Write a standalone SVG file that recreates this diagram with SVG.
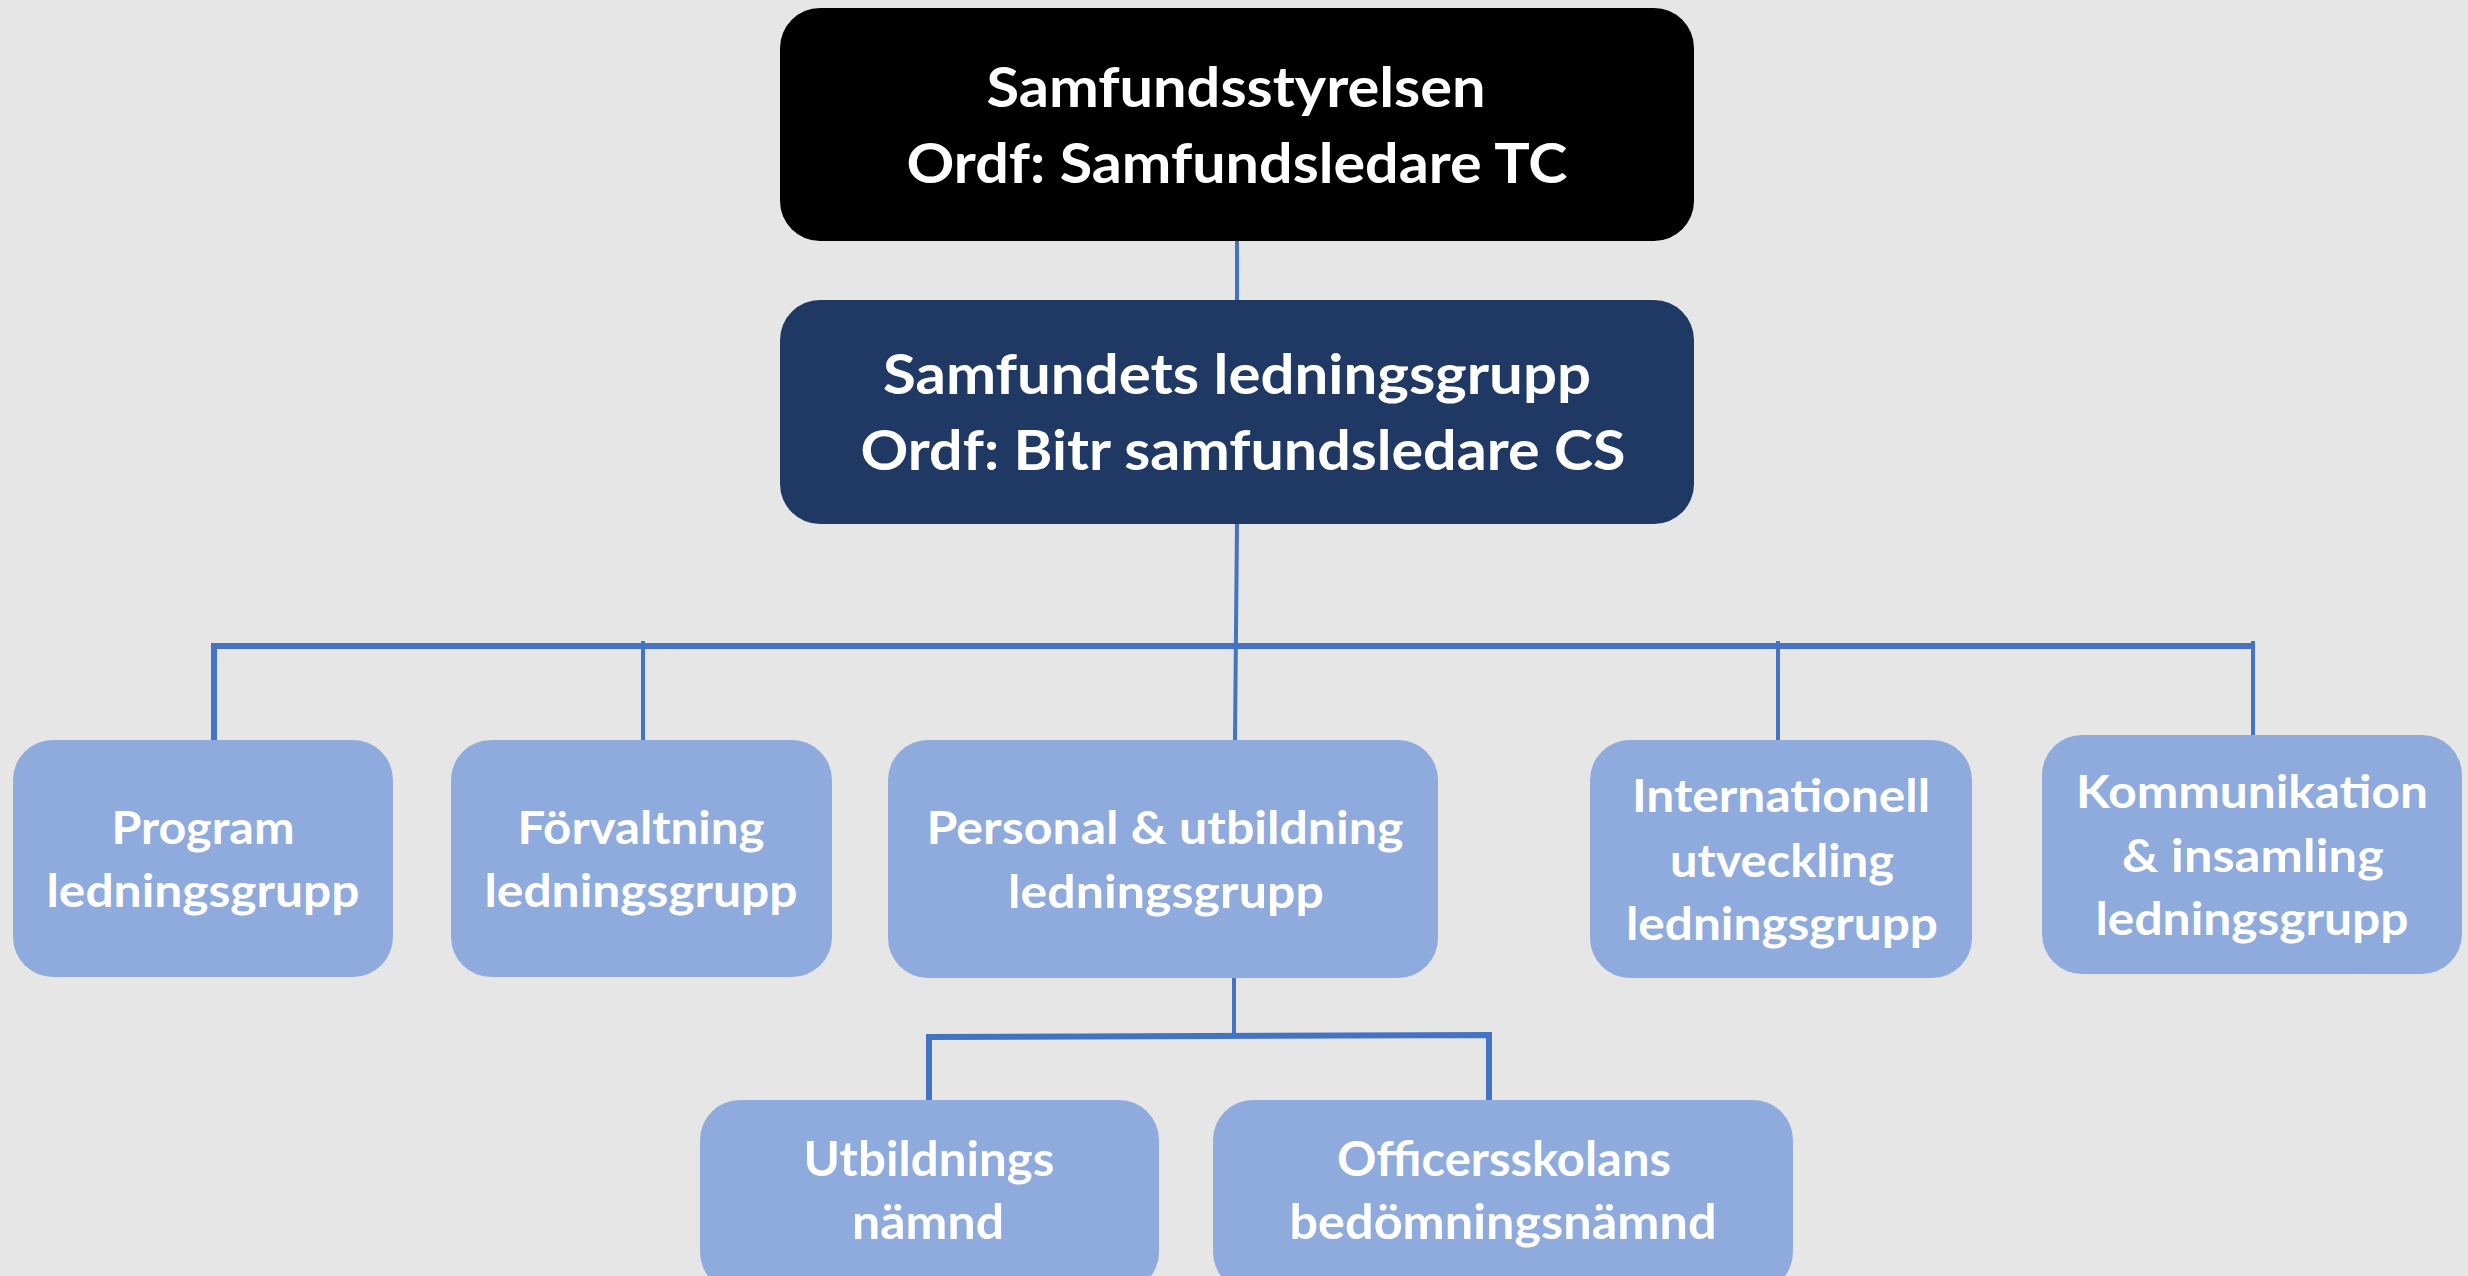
<svg xmlns="http://www.w3.org/2000/svg" width="2468" height="1276" viewBox="0 0 2468 1276">
<style>
.bg{fill:#E7E6E6}
.top{fill:#000000}
.mid{fill:#203864}
.box{fill:#8FAADC}
.conn{stroke:#4472C4;stroke-width:4;fill:none}
.bar{stroke:#4472C4;stroke-width:6;fill:none}
text{font-family:Lato,"Open Sans","Liberation Sans",sans-serif;font-weight:bold;fill:#FFFFFF;text-anchor:middle}
.t1{font-size:56px}
.t2{font-size:46px}
.t3{font-size:47px}
</style>
<rect class="bg" x="0" y="0" width="2468" height="1276"/>
<g id="connectors">
<line class="conn" x1="1237" y1="241" x2="1237" y2="300"/>
<line class="conn" x1="1237" y1="523" x2="1235" y2="740"/>
<polyline class="bar" points="214,740 214,646 2252,646"/>
<line class="conn" x1="643" y1="641" x2="643" y2="740"/>
<line class="conn" x1="1778" y1="641" x2="1778" y2="740"/>
<line class="conn" x1="2253" y1="641" x2="2253" y2="736"/>
<line class="conn" x1="1234" y1="977" x2="1234" y2="1037"/>
<polyline class="bar" points="929,1100 929,1037 1489,1035 1489,1100"/>
</g>
<g id="samfundsstyrelsen">
<rect class="top" x="780" y="8" width="914" height="233" rx="40"/>
<text class="t1" x="1236" y="107" textLength="499" lengthAdjust="spacingAndGlyphs">Samfundsstyrelsen</text>
<text class="t1" x="1237" y="183" textLength="661" lengthAdjust="spacingAndGlyphs">Ordf: Samfundsledare TC</text>
</g>
<g id="ledningsgrupp">
<rect class="mid" x="780" y="300" width="914" height="224" rx="40"/>
<text class="t1" x="1237" y="394" textLength="708" lengthAdjust="spacingAndGlyphs">Samfundets ledningsgrupp</text>
<text class="t1" x="1243" y="470" textLength="765" lengthAdjust="spacingAndGlyphs">Ordf: Bitr samfundsledare CS</text>
</g>
<g id="program">
<rect class="box" x="13" y="740" width="380" height="237" rx="40"/>
<text class="t2" x="203" y="844" textLength="183" lengthAdjust="spacingAndGlyphs">Program</text>
<text class="t2" x="203" y="907" textLength="313" lengthAdjust="spacingAndGlyphs">ledningsgrupp</text>
</g>
<g id="forvaltning">
<rect class="box" x="451" y="740" width="381" height="237" rx="40"/>
<text class="t2" x="641" y="844" textLength="247" lengthAdjust="spacingAndGlyphs">Förvaltning</text>
<text class="t2" x="641" y="907" textLength="313" lengthAdjust="spacingAndGlyphs">ledningsgrupp</text>
</g>
<g id="personal">
<rect class="box" x="888" y="740" width="550" height="238" rx="40"/>
<text class="t2" x="1165" y="844" textLength="477" lengthAdjust="spacingAndGlyphs">Personal &amp; utbildning</text>
<text class="t2" x="1166" y="908" textLength="316" lengthAdjust="spacingAndGlyphs">ledningsgrupp</text>
</g>
<g id="internationell">
<rect class="box" x="1590" y="740" width="382" height="238" rx="40"/>
<text class="t2" x="1781" y="812" textLength="298" lengthAdjust="spacingAndGlyphs">Internationell</text>
<text class="t2" x="1782" y="877" textLength="224" lengthAdjust="spacingAndGlyphs">utveckling</text>
<text class="t2" x="1782" y="940" textLength="312" lengthAdjust="spacingAndGlyphs">ledningsgrupp</text>
</g>
<g id="kommunikation">
<rect class="box" x="2042" y="735" width="420" height="239" rx="40"/>
<text class="t2" x="2252" y="808" textLength="352" lengthAdjust="spacingAndGlyphs">Kommunikation</text>
<text class="t2" x="2253" y="872" textLength="262" lengthAdjust="spacingAndGlyphs">&amp; insamling</text>
<text class="t2" x="2252" y="935" textLength="313" lengthAdjust="spacingAndGlyphs">ledningsgrupp</text>
</g>
<g id="utbildningsnamnd">
<rect class="box" x="700" y="1100" width="459" height="192" rx="40"/>
<text class="t3" x="929" y="1176" textLength="251" lengthAdjust="spacingAndGlyphs">Utbildnings</text>
<text class="t3" x="928" y="1239" textLength="152" lengthAdjust="spacingAndGlyphs">nämnd</text>
</g>
<g id="officersskolan">
<rect class="box" x="1213" y="1100" width="580" height="192" rx="40"/>
<text class="t3" x="1504" y="1176" textLength="334" lengthAdjust="spacingAndGlyphs">Officersskolans</text>
<text class="t3" x="1503" y="1239" textLength="427" lengthAdjust="spacingAndGlyphs">bedömningsnämnd</text>
</g>
</svg>
